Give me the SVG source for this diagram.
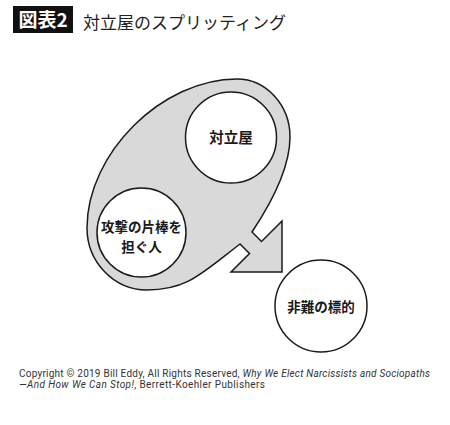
<svg xmlns="http://www.w3.org/2000/svg" width="450" height="425" viewBox="0 0 450 425">
<style>
.bg{fill:#ffffff}
.blob{fill:#d9d9d9;stroke:#1a1a1a;stroke-width:1.5;stroke-linejoin:miter}
.node{fill:#ffffff;stroke:#1a1a1a;stroke-width:1.5}
.lbl{font-family:"Noto Sans CJK JP","Noto Sans CJK SC",sans-serif;font-weight:bold;fill:#1a1a1a;text-anchor:middle}
.title{font-family:"Noto Sans CJK JP","Noto Sans CJK SC",sans-serif;fill:#222222}
.copy{font-family:Roboto,"Liberation Sans",sans-serif;font-size:10px;fill:#333333}
</style>
<rect class="bg" x="0" y="0" width="450" height="425"/>
<g id="title">
<rect x="13" y="6" width="60" height="27" fill="#111111"/>
<text x="43" y="27" class="title" font-size="19" font-weight="bold" text-anchor="middle" style="fill:#ffffff">図表2</text>
<text x="83" y="29" class="title" font-size="17">対立屋のスプリッティング</text>
</g>
<g id="connectors">
<path id="splitting-arrow" class="blob" d="M252,232 C270,205 290,170 290,137 C290,105 266,79 237,79 C162,79 87,153.5 87,228 C87,262 114,290 147,290 C187,290 201,274 240,244 L249.5,253.5 L231,272 L282,272 L282,221 L261.5,241.5 Z"/>
</g>
<g id="node-tairitsuya">
<circle class="node" cx="231" cy="137.5" r="45.5"/>
<text class="lbl" x="231" y="143" font-size="14.5">対立屋</text>
</g>
<g id="node-kougeki">
<circle class="node" cx="141.5" cy="232.5" r="44.5"/>
<text class="lbl" x="141.5" y="231.5" font-size="13.5">攻撃の片棒を</text>
<text class="lbl" x="141.5" y="251.5" font-size="13.5">担ぐ人</text>
</g>
<g id="node-hinan">
<circle class="node" cx="321" cy="306" r="46"/>
<text class="lbl" x="321" y="311.5" font-size="13.5">非難の標的</text>
</g>
<g id="copyright">
<text class="copy" x="19" y="376.5" textLength="411" lengthAdjust="spacing">Copyright © 2019 Bill Eddy, All Rights Reserved, <tspan font-style="italic">Why We Elect Narcissists and Sociopaths</tspan></text>
<text class="copy" x="19" y="387.5" textLength="246" lengthAdjust="spacing"><tspan font-style="italic">—And How We Can Stop!</tspan>, Berrett-Koehler Publishers</text>
</g>
</svg>
